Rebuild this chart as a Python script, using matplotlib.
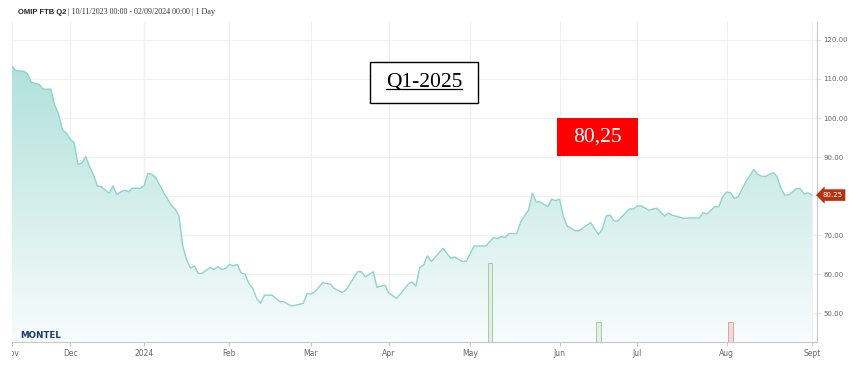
import numpy as np
import pandas as pd
import matplotlib
matplotlib.use('Agg')
import matplotlib.pyplot as plt
from matplotlib.colors import LinearSegmentedColormap
from matplotlib.lines import Line2D

# ------------------------------------------------------------
# data: OMIP FTB Q2 daily settle, x = trading-day number since 10/11/2023
# ------------------------------------------------------------
day_idx = [0, 1, 3, 4, 5, 7, 8, 10, 11, 12, 13, 14, 15, 16, 17, 18, 19, 20, 21, 22,
           23, 25, 26, 27, 28, 29, 30, 31, 33, 34, 35, 36, 37, 39, 41, 42, 43, 44, 45, 46,
           47, 48, 49, 51, 52, 53, 54, 55, 56, 57, 58, 59, 60, 61, 62, 63, 64, 65, 67, 69,
           70, 72, 75, 76, 77, 78, 80, 82, 83, 85, 86, 89, 90, 91, 93, 94, 96, 97, 99, 100,
           102, 103, 104, 105, 106, 107, 108, 111, 113, 114, 116, 117, 119, 122, 124, 125, 126, 127, 128, 130,
           131, 133, 134, 135, 136, 138, 139, 140, 141, 142, 143, 145, 146, 149, 150, 151, 152, 153, 154, 155,
           156, 159, 160, 161, 162, 164, 166, 168, 169, 170, 173, 175, 176, 177, 178, 179, 181, 182, 183, 184,
           185, 186, 187, 189, 191, 192, 193, 194, 196, 197, 198, 199, 200, 202, 203, 204, 205, 206]
price = [113.3, 112.1, 112.0, 111.3, 109.1, 108.6, 107.4, 107.4, 103.3, 101.0, 96.9, 96.2, 94.5, 93.7, 88.1, 88.5, 90.1, 87.5, 85.4, 82.6,
         82.4, 80.7, 82.6, 80.3, 81.1, 81.5, 81.1, 82.0, 82.0, 82.6, 85.8, 85.6, 84.8, 81.0, 77.7, 76.7, 74.9, 67.0, 63.6, 61.5,
         62.1, 60.2, 60.2, 61.7, 61.2, 61.9, 61.2, 61.4, 62.5, 62.1, 62.5, 60.3, 60.0, 57.6, 56.3, 53.8, 52.5, 54.6, 54.6, 52.9,
         52.9, 51.8, 52.5, 55.0, 54.9, 55.5, 57.8, 57.4, 56.3, 55.3, 55.9, 60.6, 60.6, 59.3, 60.6, 56.6, 57.2, 55.2, 53.8, 54.9,
         57.4, 58.0, 56.9, 61.7, 62.3, 64.7, 63.2, 66.6, 64.0, 64.4, 63.2, 63.3, 67.2, 67.2, 69.4, 69.1, 69.6, 69.4, 70.4, 70.4,
         73.4, 76.4, 80.7, 78.5, 78.5, 77.3, 79.2, 78.8, 79.2, 74.7, 72.3, 71.1, 71.1, 73.2, 71.7, 70.2, 71.5, 74.9, 75.1, 73.6,
         73.6, 76.7, 76.7, 77.5, 77.5, 76.4, 76.9, 74.9, 75.6, 75.1, 74.3, 74.4, 74.4, 74.3, 75.8, 75.4, 77.3, 77.3, 79.8, 81.0,
         80.9, 79.4, 79.8, 83.7, 86.8, 85.6, 85.1, 85.0, 86.0, 85.0, 82.0, 80.2, 80.3, 81.9, 81.9, 80.5, 80.8, 80.25]

vol_idx = [123, 151, 185]
vol = [20, 5, 5]
vol_up = [True, True, False]

month_names = ['Nov', 'Dec', '2024', 'Feb', 'Mar', 'Apr', 'May', 'Jun', 'Jul', 'Aug', 'Sept']
y_ticks = [50, 60, 70, 80, 90, 100, 110, 120]

title_bold = 'OMIP FTB Q2'
title_rest = ' | 10/11/2023 00:00 - 02/09/2024 00:00 | 1 Day'
box_label = 'Q1-2025'
price_label = '80,25'

# trading calendar (weekdays minus exchange holidays)
holidays = pd.to_datetime(['2023-12-25', '2023-12-26', '2024-01-01', '2024-03-29', '2024-04-01'])
cal = pd.bdate_range('2023-11-10', '2024-09-02')
cal = cal[~cal.isin(holidays)]
month_key = cal.to_period('M')
month_pos = [i for i in range(len(cal)) if i == 0 or month_key[i] != month_key[i - 1]]

# ------------------------------------------------------------
# plot
# ------------------------------------------------------------
W, H = 849, 369
fig = plt.figure(figsize=(W / 100, H / 100), dpi=100)
ax = fig.add_axes([12 / W, 1 - 342 / H, 805 / W, 320 / H])
ylo, yhi = 42.6, 124.6
xhi = 207.3

# volume bars on a hidden twin axis (created first: twinx moves ticks left)
ax2 = ax.twinx()
ax2.set_ylim(0, 81)
ax2.bar(vol_idx, vol, width=1.1,
        color=['#e2efe2' if u else '#f6d8d8' for u in vol_up],
        edgecolor=['#a8c8a8' if u else '#d9a3a3' for u in vol_up], lw=0.7)
ax2.set_yticks([])
for s in ax2.spines.values():
    s.set_visible(False)

# gradient area
poly = ax.fill_between(day_idx, price, ylo, color='none', lw=0)
grad = np.linspace(1, 0, 256).reshape(-1, 1)
cmap = LinearSegmentedColormap.from_list('area', ['#f8fcfc', '#b1e1dc'])
im = ax.imshow(grad, cmap=cmap, vmin=0, vmax=1, aspect='auto',
               extent=[0, xhi, ylo, max(price)], zorder=1)
im.set_clip_path(poly.get_paths()[0], transform=ax.transData)
ax.plot(day_idx, price, color='#8ed4cd', lw=1.0, zorder=2)
ax.set_ylim(ylo, yhi)
ax.set_xlim(0, xhi)

# axes, ticks, grid
ax.set_xticks(month_pos)
ax.set_xticklabels(month_names)
ax.yaxis.tick_right()
ax.yaxis.set_label_position('right')
ax.set_yticks(y_ticks)
# the last-price tag hides the tick label it sits on
ax.set_yticklabels(['' if abs(v - price[-1]) < 3 else f'{v:.2f}' for v in y_ticks])
ax.grid(True, color='#f0f0f0', lw=0.8, zorder=0)
ax.axvline(month_pos[2], color='#e0e0e0', lw=0.9, zorder=0)
ax.set_axisbelow(True)
ax.tick_params(axis='y', which='both', left=False, right=True, labelleft=False, labelright=True,
               length=3, color='#e6e6e6', labelsize=5, labelcolor='#666666', pad=1.5)
ax.tick_params(axis='x', length=3, color='#c8c8c8', labelsize=5.5, labelcolor='#666666', pad=2)
for s in ['top', 'left']:
    ax.spines[s].set_visible(False)
for s in ['bottom', 'right']:
    ax.spines[s].set_color('#c8c8c8')
    ax.spines[s].set_linewidth(0.8)

# first month label is cut at the plot edge
first = ax.get_xticklabels()[0]
first.set_clip_on(True)
first.set_clip_box(matplotlib.transforms.TransformedBbox(
    matplotlib.transforms.Bbox([[0, -1], [1.1, 1]]), ax.transAxes))

# last price tag
ax.annotate(f'{price[-1]:.2f}', xy=(1.0, price[-1]), xycoords=('axes fraction', 'data'),
            xytext=(4, 0), textcoords='offset points', ha='left', va='center',
            fontsize=5, color='white',
            bbox=dict(boxstyle='larrow,pad=0.4', fc='#b8310f', ec='none'), zorder=5,
            annotation_clip=False)

# title
t1 = fig.text(18 / W, 1 - 12 / H, title_bold, fontsize=5.5, fontweight='bold',
              family='Liberation Sans', va='center', ha='left', color='#222222')
ax.annotate(title_rest, xy=(1, 0.5), xycoords=t1, va='center', ha='left',
            fontsize=5.8, family='Liberation Serif', color='#333333')

# logo
fig.text(20 / W, 1 - 336 / H, 'MONTEL', fontsize=6.3, fontweight='heavy',
         color='#1c3a6c', va='center', ha='left', family='DejaVu Sans')

# boxed labels (mutation_aspect shrinks the vertical padding)
qt = ax.text(0.512, 0.811, box_label, transform=ax.transAxes, fontsize=15.5,
             family='Liberation Serif', ha='center', va='center', color='black',
             bbox=dict(boxstyle='square,pad=0.72', mutation_aspect=0.69,
                       fc='white', ec='black', lw=1.0), zorder=6)
ax.text(0.7273, 0.6406, price_label, transform=ax.transAxes, fontsize=15.5,
        family='Liberation Serif', ha='center', va='center', color='white',
        bbox=dict(boxstyle='square,pad=0.77', mutation_aspect=0.58,
                  fc='#ff0000', ec='none'), zorder=6)

# underline for Q1-2025
fig.canvas.draw()
bb = qt.get_window_extent(fig.canvas.get_renderer())
inv = fig.transFigure.inverted()
(x0, y0), (x1, _) = inv.transform([(bb.x0, bb.y0 + 2.5), (bb.x1, bb.y0 + 2.5)])
fig.add_artist(Line2D([x0, x1], [y0, y0], transform=fig.transFigure, color='black', lw=0.9, zorder=7))

fig.savefig('out.png', dpi=100)
